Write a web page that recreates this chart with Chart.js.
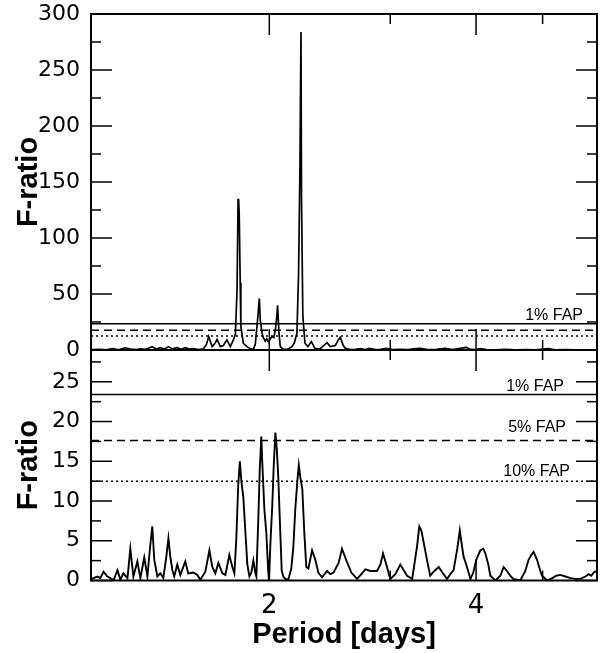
<!DOCTYPE html>
<html><head><meta charset="utf-8">
<script src="https://cdn.jsdelivr.net/npm/chart.js@4.4.1/dist/chart.umd.min.js"></script>
<style>
html,body{margin:0;padding:0;background:#fff;}
#wrap{position:relative;width:600px;height:653px;overflow:hidden;background:#fff;}
canvas{position:absolute;left:0;}
#c1{top:0;} #c2{top:336px;}
</style></head><body>
<div id="wrap"><canvas id="c1" width="600" height="366"></canvas><canvas id="c2" width="600" height="317"></canvas></div>
<script>
// ---- data ----
const topPeriods = [1.101,1.135,1.158,1.182,1.206,1.234,1.255,1.281,1.298,1.320,1.350,1.369,1.388,1.407,1.427,1.445,1.468,1.489,1.509,1.530,1.550,1.577,1.603,1.620,1.632,1.651,1.667,1.679,1.697,1.714,1.735,1.755,1.773,1.785,1.795,1.801,1.804,1.808,1.814,1.818,1.833,1.856,1.877,1.896,1.908,1.923,1.934,1.940,1.952,1.960,1.973,1.983,1.995,2.007,2.018,2.030,2.041,2.051,2.056,2.066,2.075,2.096,2.124,2.157,2.174,2.194,2.206,2.216,2.224,2.228,2.238,2.254,2.276,2.303,2.329,2.368,2.427,2.454,2.495,2.520,2.537,2.563,2.580,2.624,2.669,2.713,2.760,2.797,2.856,2.902,2.961,3.021,3.103,3.188,3.241,3.317,3.397,3.501,3.609,3.694,3.794,3.873,3.925,3.990,4.058,4.141,4.267,4.413,4.568,4.718,4.879,5.095,5.209,5.395,5.580,5.770,5.990];
const topF = [0.3,0.5,0.2,1.2,0.2,2.0,0.8,0.3,1.0,0.5,3.0,0.8,2.0,0.8,3.0,1.0,2.0,0.6,2.0,0.8,1.2,0.3,1.0,5,12,3,6,9.5,3,4,9,3,9,14,54,134,135,122,60,21,6,3,1,0.6,5,27,46,27,15,11,8,10,7,10,12,11,18,30,40,15,3,0.5,0.5,3,6,15,68,160,284,134,30,6,3,7.5,1.5,0.8,6.6,3,4,9,11.3,4,1.5,0.3,0.5,1.2,0.4,1.5,0.4,0.6,1.5,0.3,0.5,0.3,1.0,1.5,0.4,0.6,1.5,0.4,1.5,2.4,0.5,0.3,1.2,0.3,0.2,0.5,0.2,0.3,0.1,1.2,0.2,0.3,0.1,0.2,0.1];

const botPeriods = [1.101,1.109,1.124,1.135,1.147,1.162,1.174,1.186,1.202,1.214,1.226,1.243,1.255,1.268,1.285,1.298,1.315,1.329,1.342,1.351,1.360,1.374,1.388,1.402,1.416,1.426,1.435,1.445,1.454,1.469,1.484,1.509,1.524,1.550,1.571,1.587,1.614,1.636,1.652,1.669,1.686,1.709,1.726,1.749,1.767,1.779,1.790,1.802,1.812,1.821,1.827,1.833,1.846,1.858,1.871,1.883,1.896,1.908,1.915,1.928,1.937,1.947,1.953,1.967,1.980,1.993,1.998,2.007,2.020,2.030,2.041,2.051,2.061,2.075,2.085,2.096,2.110,2.131,2.153,2.168,2.182,2.197,2.208,2.219,2.234,2.249,2.264,2.280,2.308,2.334,2.357,2.387,2.427,2.454,2.481,2.523,2.552,2.595,2.633,2.684,2.723,2.760,2.806,2.870,2.902,2.928,2.968,3.000,3.052,3.103,3.174,3.229,3.282,3.307,3.329,3.352,3.393,3.430,3.478,3.529,3.573,3.629,3.670,3.710,3.756,3.788,3.806,3.836,3.880,3.925,3.963,4.003,4.058,4.099,4.127,4.168,4.196,4.267,4.339,4.387,4.436,4.486,4.531,4.639,4.718,4.770,4.813,4.851,4.907,4.962,4.990,5.075,5.166,5.235,5.306,5.395,5.489,5.580,5.676,5.770,5.834,5.888,5.933,5.990];
const botF = [0.2,0.3,0.5,0.3,1.1,0.5,0.3,0.0,1.3,0.1,0.9,0.3,4.0,0.5,2.4,0.3,2.9,0.5,4.5,6.8,2.6,0.5,0.9,0.3,3.0,5.3,3.0,1.3,0.5,2.0,0.7,2.4,0.9,1.0,0.7,0.1,1.1,3.8,1.7,0.9,2.2,0.9,0.7,3.2,1.7,0.9,5.0,12.0,15.0,12.5,11.5,10.5,6.0,2.0,0.5,1.0,2.5,1.0,0.5,8.0,14.0,18.1,15.0,9.0,6.0,1.0,0.0,4.5,9.5,14.5,18.6,16.5,13.0,6.0,1.2,0.5,0.2,0.1,1.5,4.3,9.0,12.5,14.5,13.0,11.5,6.0,1.7,1.5,3.8,2.6,1.0,0.4,1.2,0.8,1.0,2.2,4.0,2.3,1.0,0.2,0.8,1.4,1.2,1.2,2.0,3.4,1.7,0.2,0.8,2.0,0.6,0.2,4.3,6.8,6.3,5.0,2.6,0.6,1.2,1.7,1.0,0.2,0.8,1.3,4.0,6.3,5.0,3.0,1.7,0.2,1.0,2.6,3.8,4.0,3.4,2.0,0.6,0.0,0.6,1.7,1.2,0.6,0.2,0.0,1.2,2.6,3.2,3.6,2.6,1.2,0.6,0.0,0.3,0.6,0.7,0.5,0.3,0.2,0.2,0.5,0.8,0.6,1.0,1.2];

const fapLevels = [23.4, 17.6, 12.5];
const fapLabels = ['1% FAP', '5% FAP', '10% FAP'];
const fapDashes = [[], [8, 5], [2, 3]];

const periodTicks = [2, 3, 4, 5];
const periodLabels = ['2', '', '4', ''];
const periodMajor = [2, 4];
const periodMinor = [3, 5];
const topYMajor = [0, 50, 100, 150, 200, 250, 300];
const topYMinor = [25, 75, 125, 175, 225, 275];
const botYMajor = [0, 5, 10, 15, 20, 25];
const botYMinor = [2.5, 7.5, 12.5, 17.5, 22.5, 27.5];

// ---- drawing ----
const pts = (xs, ys) => xs.map((x, i) => ({x: x, y: ys[i]}));
const PMIN = 1.1, PMAX = 6.0;

const frameTicks = {
  id: 'frameTicks',
  afterDraw(chart, args, o) {
    const ctx = chart.ctx, a = chart.chartArea, xs = chart.scales.x, ys = chart.scales.y;
    ctx.save();
    ctx.strokeStyle = '#000';
    ctx.lineWidth = 1.5;
    const seg = (x1, y1, x2, y2) => { ctx.beginPath(); ctx.moveTo(x1, y1); ctx.lineTo(x2, y2); ctx.stroke(); };
    o.yMajor.forEach(v => { const p = ys.getPixelForValue(v); seg(a.left, p, a.left + 21, p); seg(a.right, p, a.right - 21, p); });
    o.yMinor.forEach(v => { const p = ys.getPixelForValue(v); seg(a.left, p, a.left + 10, p); seg(a.right, p, a.right - 10, p); });
    periodMajor.forEach(v => { const p = xs.getPixelForValue(v); seg(p, a.top, p, a.top + 21); seg(p, a.bottom, p, a.bottom - 21); });
    periodMinor.forEach(v => { const p = xs.getPixelForValue(v); seg(p, a.top, p, a.top + 10); seg(p, a.bottom, p, a.bottom - 10); });
    ctx.lineWidth = 2;
    ctx.strokeRect(a.left, a.top, a.right - a.left, a.bottom - a.top);
    ctx.font = '16px "Liberation Sans"';
    ctx.fillStyle = '#000';
    ctx.textAlign = 'right';
    ctx.textBaseline = 'alphabetic';
    o.labels.forEach(l => {
      const p = ys.getPixelForValue(fapLevels[l.i]);
      ctx.fillText(fapLabels[l.i], a.right - l.dx, p - l.dy);
    });
    ctx.restore();
  }
};

function fapSets() {
  return fapLevels.map((lv, i) => ({
    data: [{x: PMIN, y: lv}, {x: PMAX, y: lv}],
    borderColor: '#000', borderWidth: 1.5, borderDash: fapDashes[i],
    pointRadius: 0, fill: false
  }));
}

function yAxis(min, max, major) {
  return {
    type: 'linear', min: min, max: max, bounds: 'data',
    grid: {display: false, drawTicks: false}, border: {display: false},
    ticks: {font: {family: 'DejaVu Sans', size: 22}, color: '#000', padding: 11, autoSkip: false},
    afterBuildTicks: s => { s.ticks = major.map(v => ({value: v})); },
    afterFit: s => { s.width = 91; s.paddingTop = 0; s.paddingBottom = 0; },
    title: {display: true, text: 'F-ratio', color: '#000',
      font: {family: 'Liberation Sans', size: 29, weight: 'bold'}, padding: {top: 12, bottom: 0}}
  };
}

Chart.defaults.font.family = 'DejaVu Sans';
Chart.defaults.color = '#000';

new Chart(document.getElementById('c1'), {
  type: 'line',
  data: {datasets: [
    {data: pts(topPeriods, topF), borderColor: '#000', borderWidth: 1.7, pointRadius: 0, tension: 0, fill: false}
  ].concat(fapSets())},
  options: {
    responsive: false, animation: false, devicePixelRatio: 1,
    layout: {padding: {top: 14, bottom: 16, left: 0, right: 3}},
    plugins: {legend: {display: false}, tooltip: {enabled: false},
      frameTicks: {yMajor: topYMajor, yMinor: topYMinor, labels: [{i: 0, dx: 14, dy: 4}]}},
    scales: {
      x: {type: 'logarithmic', min: PMIN, max: PMAX, bounds: 'data', display: false,
          afterBuildTicks: s => { s.ticks = periodTicks.map(v => ({value: v})); }},
      y: yAxis(0, 300, topYMajor)
    }
  },
  plugins: [frameTicks]
});

new Chart(document.getElementById('c2'), {
  type: 'line',
  data: {datasets: [
    {data: pts(botPeriods, botF), borderColor: '#000', borderWidth: 1.9, pointRadius: 0, tension: 0, fill: false}
  ].concat(fapSets())},
  options: {
    responsive: false, animation: false, devicePixelRatio: 1,
    layout: {padding: {top: 14, bottom: 0, left: 0, right: 3}},
    plugins: {legend: {display: false}, tooltip: {enabled: false},
      frameTicks: {yMajor: botYMajor, yMinor: botYMinor,
        labels: [{i: 0, dx: 33, dy: 3.5}, {i: 1, dx: 31, dy: 9}, {i: 2, dx: 27, dy: 5}]}},
    scales: {
      x: {type: 'logarithmic', min: PMIN, max: PMAX, bounds: 'data', position: 'bottom',
          grid: {display: false, drawTicks: false}, border: {display: false},
          afterBuildTicks: s => { s.ticks = periodTicks.map(v => ({value: v})); },
          ticks: {autoSkip: false, maxRotation: 0, minRotation: 0, padding: 10,
                  font: {family: 'DejaVu Sans', size: 26}, color: '#000',
                  callback: (v, i) => periodLabels[i]},
          afterFit: s => { s.height = 72.5; s.paddingLeft = 0; s.paddingRight = 0; },
          title: {display: true, text: 'Period [days]', color: '#000',
            font: {family: 'Liberation Sans', size: 29, weight: 'bold'}, padding: {top: 0, bottom: 1}}},
      y: yAxis(0, 29, botYMajor)
    }
  },
  plugins: [frameTicks]
});
</script>
</body></html>
